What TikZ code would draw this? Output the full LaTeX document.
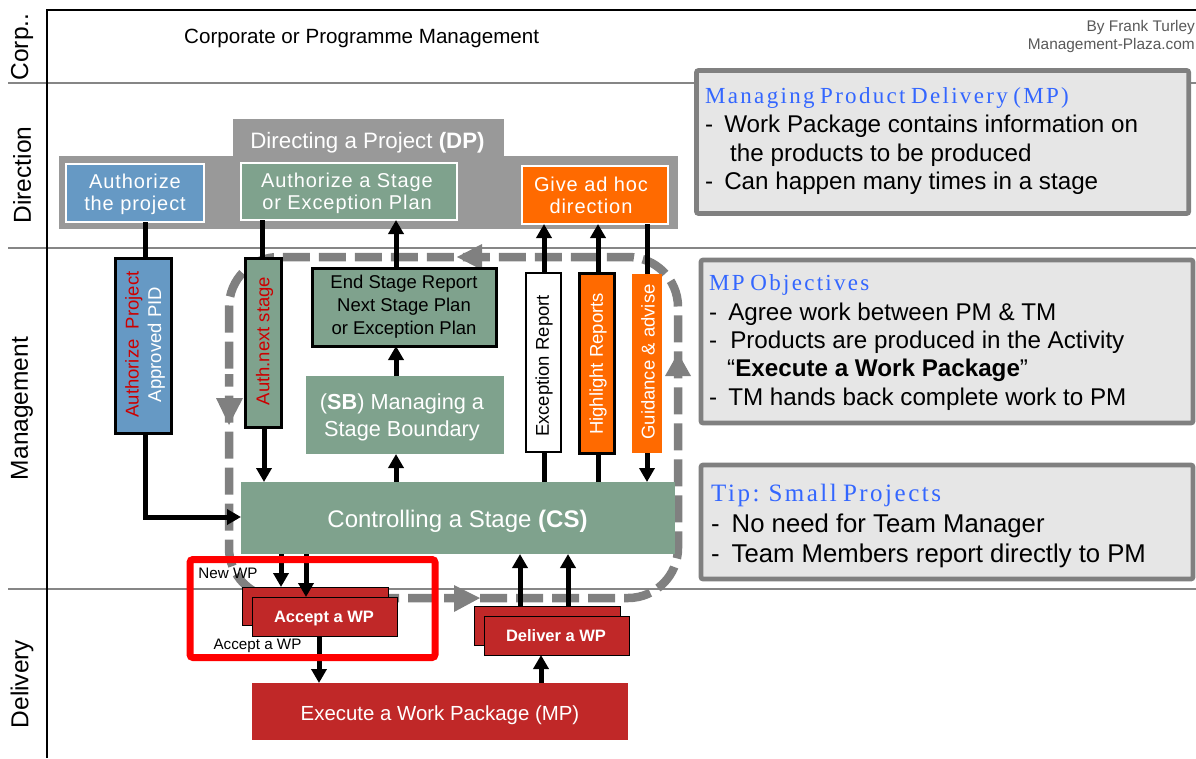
\documentclass[tikz,border=0pt]{standalone}
\usepackage{fontspec}
\setmainfont{Liberation Sans}
\newfontfamily\headfont{Liberation Serif}[LetterSpace=10,WordSpace=0.7]
\newfontfamily\spacedfont{Liberation Sans}[LetterSpace=4.5]
\usetikzlibrary{arrows.meta}
\definecolor{dpgray}{HTML}{999999}
\definecolor{loopgray}{HTML}{808080}
\definecolor{lanegray}{HTML}{868686}
\definecolor{sgreen}{HTML}{7FA28D}
\definecolor{sblue}{HTML}{6699C4}
\definecolor{sorange}{HTML}{FF6A00}
\definecolor{sred}{HTML}{C02828}
\definecolor{txtred}{HTML}{CC0000}
\definecolor{panelfill}{HTML}{E6E6E6}
\definecolor{headblue}{HTML}{3366FF}
\tikzset{
 box/.style={inner sep=0pt,outer sep=0pt,align=center,font=\fontsize{21.3}{22.5}\selectfont,text=white},
 dpbox/.style={box,draw=white,line width=2.5pt},
 dplabel/.style={inner sep=0pt,align=center,text=white,font=\fontsize{20}{22}\spacedfont},
 barbox/.style={box,draw=black,line width=3pt},
 lanelabel/.style={rotate=90,font=\fontsize{24.5}{28}\selectfont,inner sep=0pt},
 flow/.style={line width=5pt,draw=black},
 flowtip/.style={flow,-{Triangle[length=14pt,width=15pt]}},
 panel/.style={draw=loopgray,fill=panelfill,line width=4.7pt,rounded corners=2pt,inner sep=0pt,outer sep=0pt},
 paneltext/.style={anchor=west,inner sep=0pt,font=\fontsize{24.2}{28}\selectfont},
 bigtext/.style={anchor=west,inner sep=0pt,font=\fontsize{25.7}{30}\selectfont},
 panelhead/.style={anchor=west,inner sep=0pt,text=headblue},
 loopline/.style={draw=loopgray,line width=8.5pt,dash pattern=on 27pt off 9pt,dash phase=30.5pt,rounded corners=50pt},
 wp/.style={box,fill=sred,draw=black,line width=1pt},
 wplabel/.style={inner sep=0pt,text=white,font=\fontsize{16.5}{19}\selectfont\bfseries},
 rottext/.style={rotate=90,inner sep=0pt,font=\fontsize{18.5}{22.5}\selectfont},
}
\begin{document}
\begin{tikzpicture}[x=1pt,y=-1pt]
\useasboundingbox (0,0) rectangle (1196,758);
\fill[white] (0,0) rectangle (1196,758);
% lanes
\draw[lanegray,line width=2pt] (8,83) -- (1196,83) (8,248) -- (1196,248) (8,589) -- (1196,589);
\draw[black,line width=2.8pt] (1196,10) -- (47,10) -- (47,758);
\node[lanelabel] (l1) at (22,47) {Corp..};
\node[lanelabel] (l2) at (22,175) {Direction};
\node[lanelabel] (l3) at (22,408.5) {Management};
\node[lanelabel] (l4) at (22,684) {Delivery};
\node[anchor=west,inner sep=0pt,font=\fontsize{20.6}{24}\selectfont] (corp) at (184,38) {Corporate or Programme Management};
\node[anchor=east,inner sep=0pt,text=black!65,font=\fontsize{15.4}{18}\selectfont] (by) at (1195,28) {By Frank Turley};
\node[anchor=east,inner sep=0pt,text=black!65,font=\fontsize{15.4}{18}\selectfont] (mp) at (1195,46) {Management-Plaza.com};
% DP background
\fill[dpgray] (59,156) rectangle (678,229);
\fill[dpgray] (233,119) rectangle (504,156);
\node[inner sep=0pt,text=white,font=\fontsize{22.3}{26}\selectfont] (dp) at (367.5,143) {Directing a Project \textbf{(DP)}};
% control loop
\draw[loopline] (229,424) -- (229,257) -- (678,257) -- (678,598) -- (229,598) -- cycle;
\fill[loopgray] (457,257) -- (482,244) -- (482,270) -- cycle;
\fill[loopgray] (229,425) -- (216,398) -- (243,398) -- cycle;
\fill[loopgray] (480,598) -- (454,585) -- (454,612) -- cycle;
\fill[loopgray] (678,353) -- (665,376) -- (691,376) -- cycle;
% direction boxes
\node[dpbox,fill=sblue,minimum width=138pt,minimum height=58pt] (ap) at (135,193) {};
\node[dplabel] (apt) at (135,194.5) {Authorize\\the project};
\node[dpbox,fill=sgreen,minimum width=216pt,minimum height=57pt] (as) at (349,191.5) {};
\node[dplabel] (ast) at (347,193) {Authorize a Stage\\or Exception Plan};
\node[dpbox,fill=sorange,minimum width=146pt,minimum height=58pt] (ga) at (595,195) {};
\node[dplabel] (gat) at (591,195.5) {Give ad hoc\\direction};
% management boxes
\node[barbox,fill=sblue,minimum width=56pt,minimum height=175pt] (bp) at (143,345.5) {};
\node[rottext,align=center] (bpt) at (145,344.5) {\textcolor{txtred}{Authorize \ Project}\\\textcolor{white}{Approved PID}};
\node[barbox,fill=sgreen,minimum width=36pt,minimum height=169pt] (bs) at (263,342.5) {};
\node[rottext,text=txtred] (bst) at (264.5,341) {Auth.next stage};
\node[box,draw=black,line width=3pt,fill=sgreen,text=black,minimum width=184pt,minimum height=78pt,font=\fontsize{18.5}{23}\selectfont] (es) at (404,307) {End Stage Report\\Next Stage Plan\\or Exception Plan};
\node[box,fill=sgreen,minimum width=198pt,minimum height=78pt] (sb) at (405,415) {};
\node[inner sep=0pt,align=center,text=white,font=\fontsize{21.7}{27}\selectfont] (sbt) at (402,417) {(\textbf{SB}) Managing a\\Stage Boundary};
\node[box,draw=black,line width=2.5pt,fill=white,minimum width=35pt,minimum height=179pt] (er) at (543.5,362.5) {};
\node[rottext,text=black] (ert) at (544,366) {Exception Report};
\node[barbox,fill=sorange,minimum width=35pt,minimum height=180pt] (hr) at (596.5,363) {};
\node[rottext,text=white] (hrt) at (598,364) {Highlight Reports};
\node[box,fill=sorange,minimum width=30pt,minimum height=179pt] (gd) at (647,363.5) {};
\node[rottext,text=white] (gdt) at (648,362) {Guidance \& advise};
\node[box,fill=sgreen,minimum width=434pt,minimum height=72pt] (cs) at (458,518) {};
\node[inner sep=0pt,text=white,font=\fontsize{24}{27}\selectfont] (cst) at (457.5,521) {Controlling a Stage \textbf{(CS)}};
% delivery boxes
\node[wp,minimum width=146pt,minimum height=38pt] (ab) at (315,606) {};
\node[wp,minimum width=145pt,minimum height=39pt] (af) at (324.5,616.5) {};
\node[wplabel] (aft) at (324,618.5) {Accept a WP};
\node[wp,minimum width=146pt,minimum height=39pt] (db) at (547,625.5) {};
\node[wp,minimum width=145pt,minimum height=39pt] (df) at (556.5,635.5) {};
\node[wplabel] (dft) at (556,636) {Deliver a WP};
\node[box,fill=sred,minimum width=376pt,minimum height=57pt] (ex) at (440,711.5) {};
\node[inner sep=0pt,text=white,font=\fontsize{20.4}{23}\selectfont] (ext) at (440,715) {Execute a Work Package (MP)};
% connectors
\draw[flow] (145,0 |- ap.south) -- (145,0 |- bp.north);
\draw[flowtip] (145,0 |- bp.south) -- (145,517) -- (241,517);
\draw[flow] (262,0 |- as.south) -- (262,0 |- bs.north);
\draw[flowtip] (264,0 |- bs.south) -- (264,0 |- cs.north);
\draw[flowtip] (396,0 |- es.north) -- (396,0 |- as.south);
\draw[flowtip] (396,0 |- sb.north) -- (396,0 |- es.south);
\draw[flowtip] (396,0 |- cs.north) -- (396,0 |- sb.south);
\draw[flowtip] (544,0 |- er.north) -- (544,0 |- ga.south);
\draw[flow] (544,0 |- cs.north) -- (544,0 |- er.south);
\draw[flowtip] (598,0 |- hr.north) -- (598,0 |- ga.south);
\draw[flow] (598,0 |- cs.north) -- (598,0 |- hr.south);
\draw[flow] (647,0 |- ga.south) -- (647,0 |- gd.north);
\draw[flowtip] (647,0 |- gd.south) -- (647,0 |- cs.north);
\draw[flowtip] (281,0 |- cs.south) -- (281,0 |- ab.north);
\draw[flowtip] (306,0 |- cs.south) -- (306,0 |- af.north);
\draw[flowtip] (319,0 |- af.south) -- (319,0 |- ex.north);
\draw[flowtip] (520,0 |- db.north) -- (520,0 |- cs.south);
\draw[flowtip] (568,0 |- db.north) -- (568,0 |- cs.south);
\draw[flowtip] (541,0 |- ex.north) -- (541,0 |- df.south);
% highlight
\draw[red,line width=7pt,rounded corners=3pt] (190,559.5) rectangle (435,657.5);
\node[inner sep=0pt,font=\fontsize{15.2}{18}\selectfont] (nw) at (228,573) {New WP};
\node[inner sep=0pt,font=\fontsize{15.2}{18}\selectfont] (aw) at (257.5,645.5) {Accept a WP};
% panels
\draw[panel] (696.5,70.5) rectangle (1188.7,213.5);
\node[panelhead,font=\fontsize{23}{26}\headfont] (h1) at (705,98) {Managing Product Delivery (MP)};
\node[paneltext] (t1a) at (705,126) {-\hspace{11pt}Work Package contains information on};
\node[paneltext] (t1b) at (730,155) {the products to be produced};
\node[paneltext] (t1c) at (705,183) {-\hspace{11pt}Can happen many times in a stage};
\draw[panel] (701,260) rectangle (1193,423);
\node[panelhead,font=\fontsize{23}{26}\headfont] (h2) at (709,285) {MP Objectives};
\node[paneltext] (t2a) at (709,314) {-\hspace{11pt}Agree work between PM \& TM};
\node[paneltext] (t2b) at (709,342) {-\hspace{13pt}Products are produced in the Activity};
\node[paneltext] (t2c) at (727,370) {“\textbf{Execute a Work Package}”};
\node[paneltext] (t2d) at (709,399) {-\hspace{11pt}TM hands back complete work to PM};
\draw[panel] (701,465) rectangle (1193,579);
\node[panelhead,font=\fontsize{25}{30}\headfont] (h3) at (711,495) {Tip: Small Projects};
\node[bigtext] (t3a) at (711,526) {-\hspace{12pt}No need for Team Manager};
\node[bigtext] (t3b) at (711,556) {-\hspace{12pt}Team Members report directly to PM};
\end{tikzpicture}
\end{document}
